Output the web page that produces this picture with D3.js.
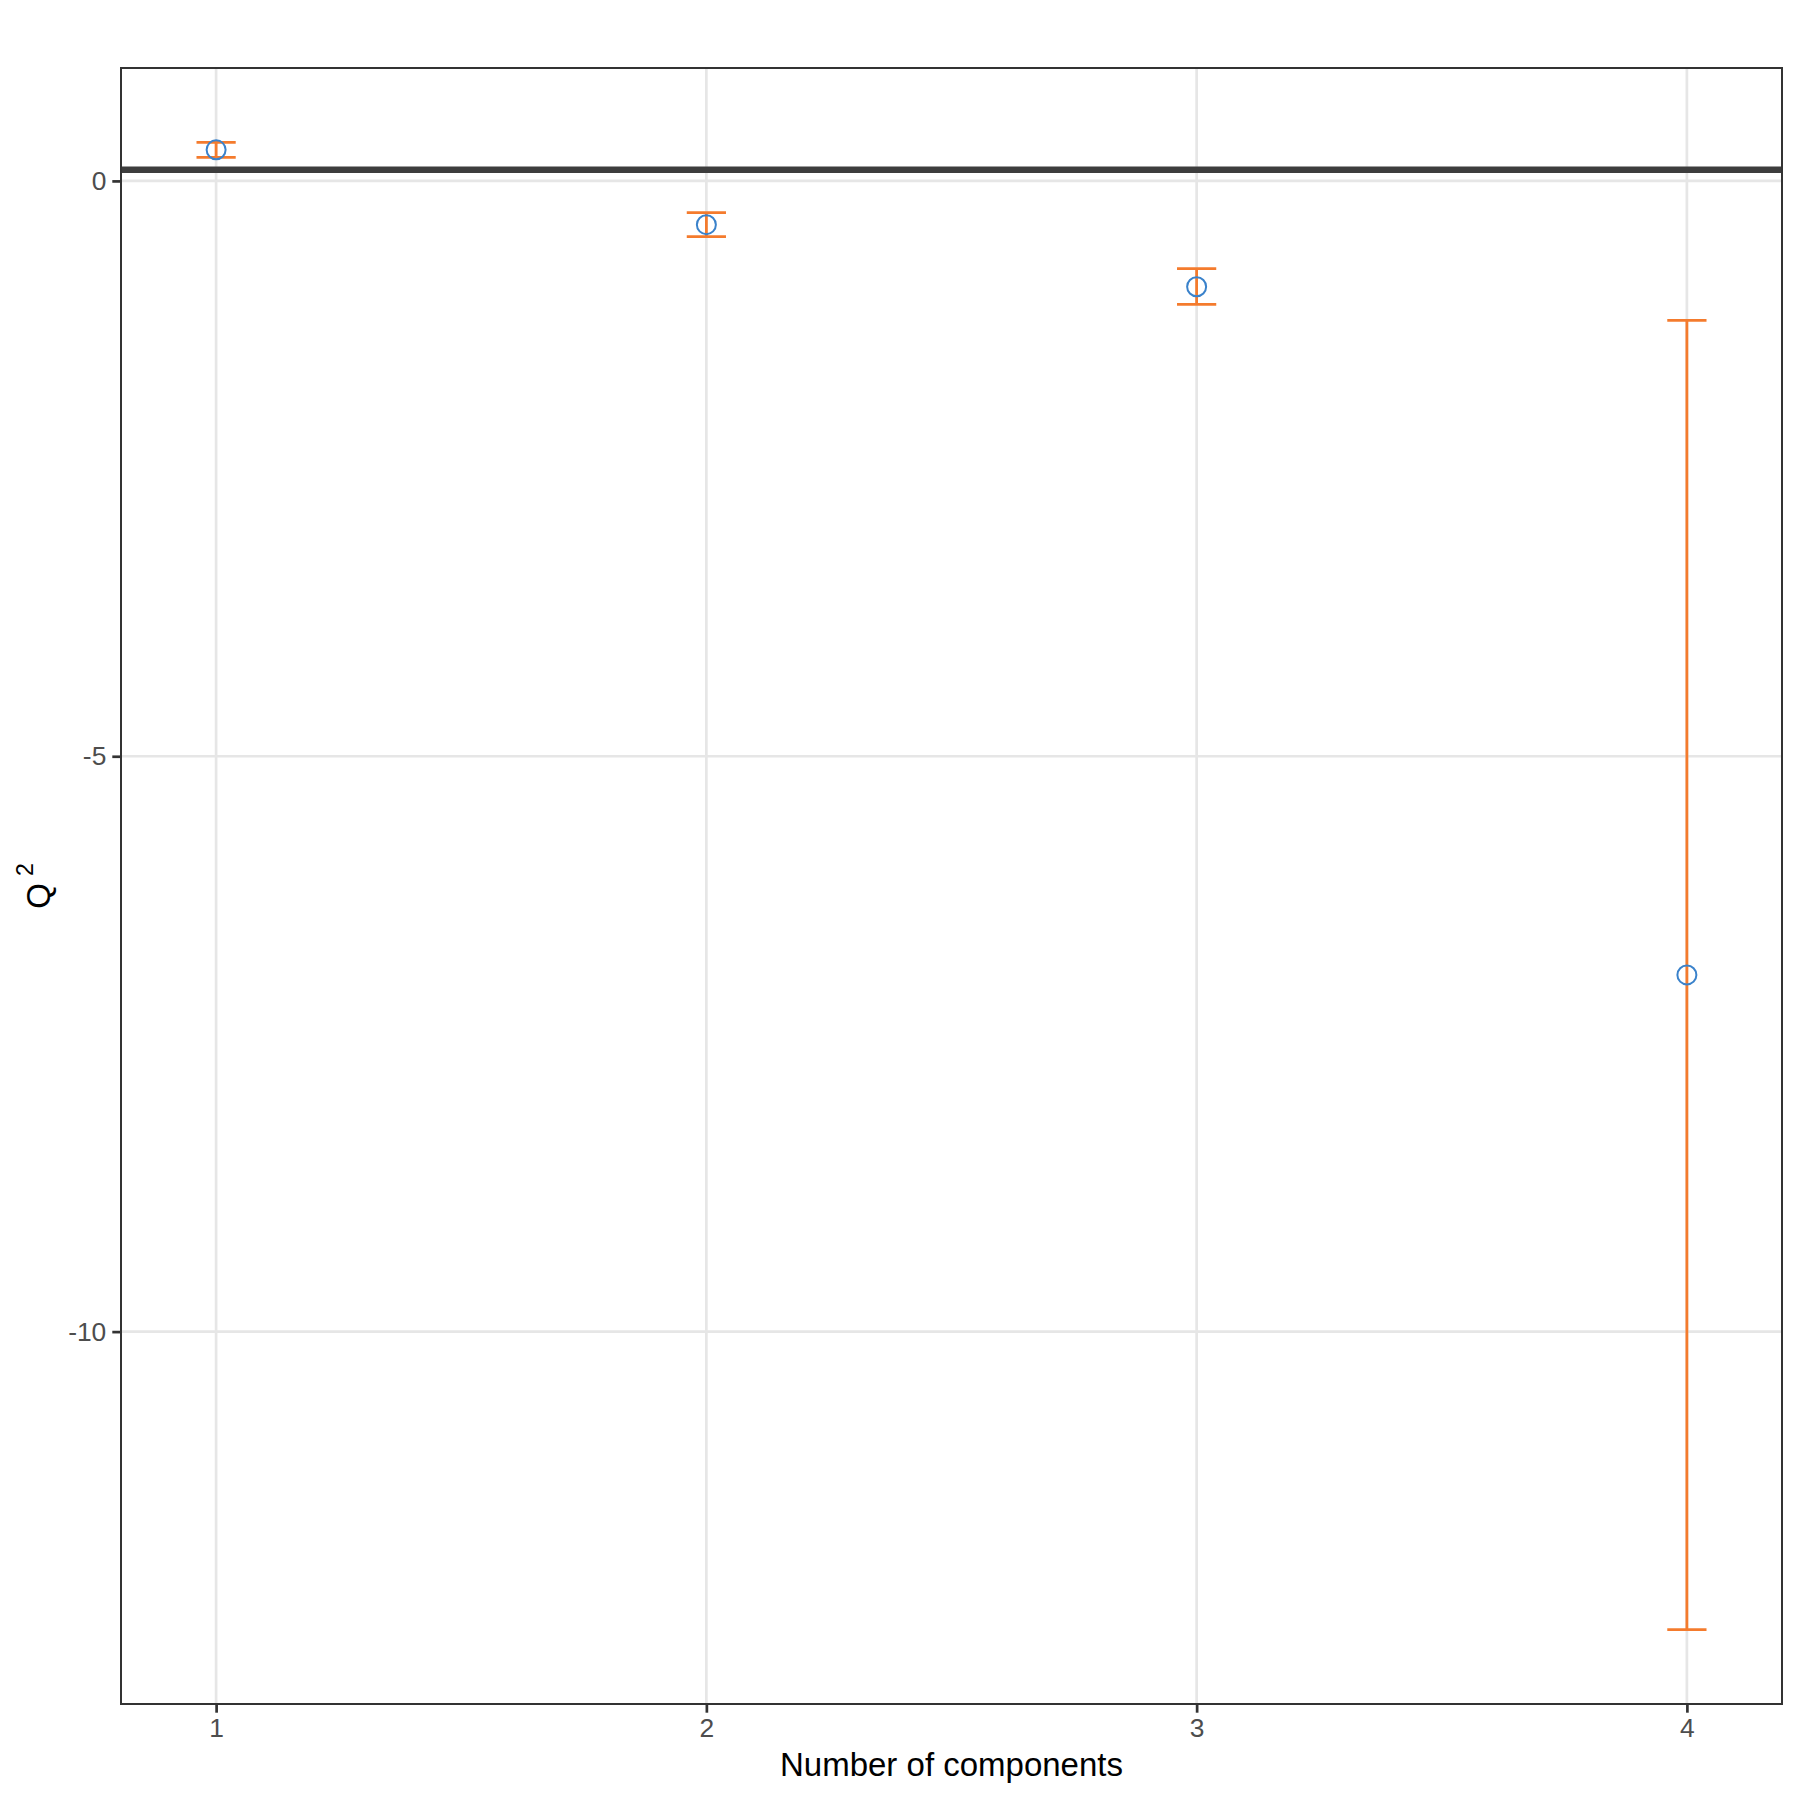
<!DOCTYPE html>
<html>
<head>
<meta charset="utf-8">
<script src="https://cdn.jsdelivr.net/npm/d3@7"></script>
<style>
  body { margin: 0; background: #fff; }
  svg text { font-family: "Liberation Sans", Arial, sans-serif; }
</style>
</head>
<body>
<svg id="chart" width="1800" height="1800"></svg>
<script>
// number of components and Q2 summary (mean, lower, upper)
const components = [1, 2, 3, 4];
const q2Mean  = [0.27, -0.38, -0.92, -6.90];
const q2Lower = [0.205, -0.485, -1.073, -12.59];
const q2Upper = [0.335, -0.276, -0.763, -1.212];
const q2Threshold = 0.0975;
const yTicks = [0, -5, -10];

const rows = components.map((c, i) => ({
  comp: c, mean: q2Mean[i], lo: q2Lower[i], hi: q2Upper[i]
}));

const panel = {left: 121, right: 1782, top: 68, bottom: 1704};
const capHalf = 0.04;

// ggplot style 5% expansion
const xMin = d3.min(components) - capHalf, xMax = d3.max(components) + capHalf;
const xPad = (xMax - xMin) * 0.05;
const yMin = d3.min(q2Lower), yMax = d3.max(q2Upper);
const yPad = (yMax - yMin) * 0.05;

const x = d3.scaleLinear()
  .domain([xMin - xPad, xMax + xPad])
  .range([panel.left, panel.right]);
const y = d3.scaleLinear()
  .domain([yMin - yPad, yMax + yPad])
  .range([panel.bottom, panel.top]);

const svg = d3.select('#chart');
const orange = '#f47b2d';
const blue = '#3a82cb';

// grid
const grid = svg.append('g').attr('class', 'grid');
grid.selectAll('line.gx')
  .data(components)
  .enter()
  .append('line')
  .attr('x1', d => x(d)).attr('x2', d => x(d))
  .attr('y1', panel.top).attr('y2', panel.bottom)
  .style('stroke', '#e6e6e6')
  .style('stroke-width', 2.7);
grid.selectAll('line.gy')
  .data(yTicks)
  .enter()
  .append('line')
  .attr('x1', panel.left).attr('x2', panel.right)
  .attr('y1', d => y(d)).attr('y2', d => y(d))
  .style('stroke', '#e6e6e6')
  .style('stroke-width', 2.7);

// threshold line
svg.append('line')
  .attr('x1', panel.left).attr('x2', panel.right)
  .attr('y1', y(q2Threshold)).attr('y2', y(q2Threshold))
  .style('stroke', '#3d3d3d')
  .style('stroke-width', 6.5);

// error bars
const bars = svg.append('g').attr('class', 'errbars')
  .style('stroke', orange)
  .style('stroke-width', 2.8)
  .style('fill', 'none');
bars.selectAll('line.stem')
  .data(rows)
  .enter()
  .append('line')
  .attr('x1', d => x(d.comp)).attr('x2', d => x(d.comp))
  .attr('y1', d => y(d.hi)).attr('y2', d => y(d.lo));
['hi', 'lo'].forEach(k => {
  bars.selectAll('line.cap-' + k)
    .data(rows)
    .enter()
    .append('line')
    .attr('x1', d => x(d.comp - capHalf)).attr('x2', d => x(d.comp + capHalf))
    .attr('y1', d => y(d[k])).attr('y2', d => y(d[k]));
});

// points
svg.append('g').selectAll('circle')
  .data(rows)
  .enter()
  .append('circle')
  .attr('cx', d => x(d.comp))
  .attr('cy', d => y(d.mean))
  .attr('r', 9.5)
  .style('fill', 'none')
  .style('stroke', blue)
  .style('stroke-width', 2);

// panel border
svg.append('rect')
  .attr('x', panel.left).attr('y', panel.top)
  .attr('width', panel.right - panel.left)
  .attr('height', panel.bottom - panel.top)
  .style('fill', 'none')
  .style('stroke', '#333333')
  .style('stroke-width', 2);

// axes
const xAxis = svg.append('g')
  .attr('transform', `translate(0,${panel.bottom})`)
  .call(d3.axisBottom(x).tickValues(components).tickFormat(d3.format('d')).tickSize(8.7).tickPadding(6));
const yAxis = svg.append('g')
  .attr('transform', `translate(${panel.left},0)`)
  .call(d3.axisLeft(y).tickValues(yTicks).tickFormat(d => d < 0 ? '-' + Math.abs(d) : d).tickSize(8.7).tickPadding(6));

[xAxis, yAxis].forEach(a => {
  a.select('.domain').remove();
  a.selectAll('.tick line').style('stroke', '#333333').style('stroke-width', 2.7);
  a.selectAll('.tick text')
    .style('font-size', '26.4px')
    .style('fill', '#4d4d4d')
    .style('font-family', '"Liberation Sans", Arial, sans-serif');
});

// titles
svg.append('text')
  .attr('x', (panel.left + panel.right) / 2)
  .attr('y', 1776)
  .attr('text-anchor', 'middle')
  .style('font-size', '33px')
  .style('fill', '#000')
  .text('Number of components');

const yt = svg.append('text')
  .attr('transform', `translate(50,${(panel.top + panel.bottom) / 2}) rotate(-90)`)
  .attr('text-anchor', 'middle')
  .style('font-size', '33px')
  .style('fill', '#000');
yt.append('tspan').text('Q');
yt.append('tspan')
  .attr('dx', 7)
  .attr('dy', -17)
  .style('font-size', '23px')
  .text('2');
</script>
</body>
</html>
